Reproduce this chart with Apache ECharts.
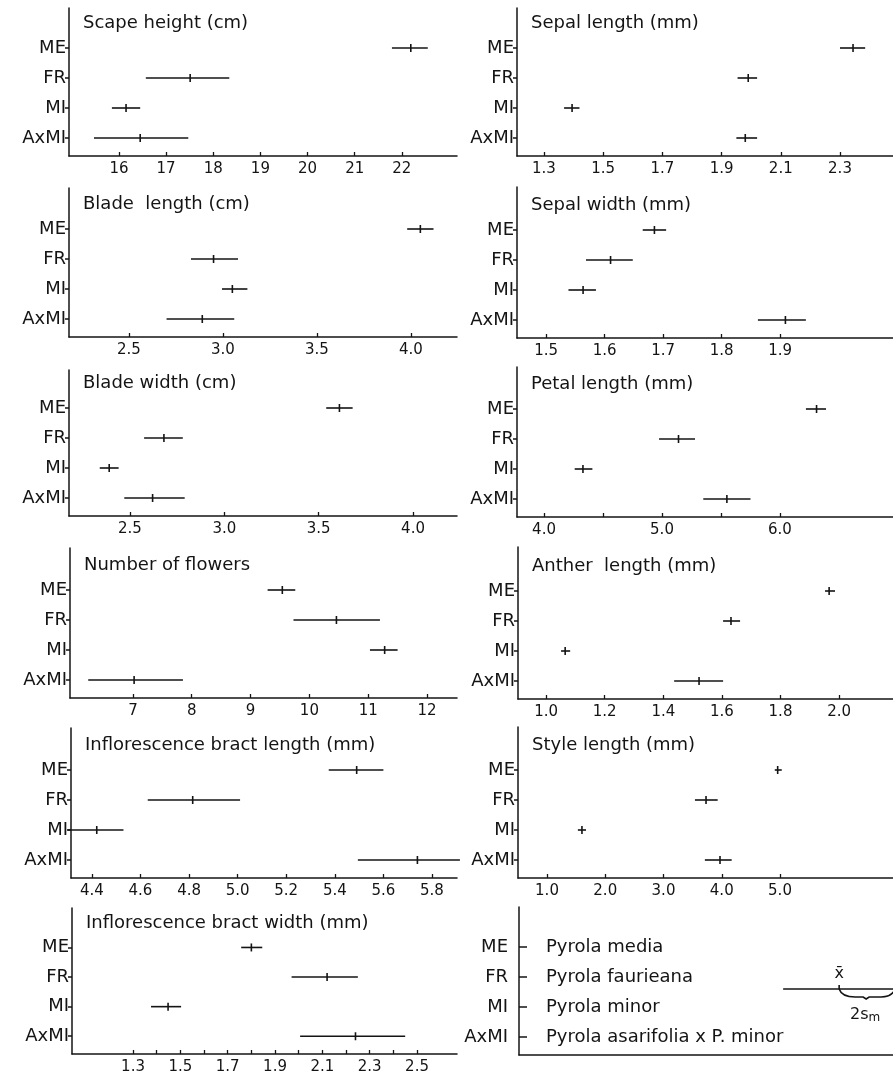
<!DOCTYPE html>
<html>
<head>
<meta charset="utf-8">
<script src="https://cdn.jsdelivr.net/npm/echarts@6/dist/echarts.min.js"></script>
<style>
  html, body { margin: 0; padding: 0; background: #fff; }
  #chart { width: 893px; height: 1075px; }
</style>
</head>
<body>
<div id="chart"></div>
<script>
// groups, top row first
var groups = ['ME', 'FR', 'MI', 'AxMI'];
var species = ['Pyrola media', 'Pyrola faurieana', 'Pyrola minor', 'Pyrola asarifolia x P. minor'];
var rowPos = [4, 3, 2, 1];

// each row: [mean - sm, mean, mean + sm] for ME, FR, MI, AxMI
var scapeHeight = [[21.79, 22.19, 22.55], [16.57, 17.51, 18.34], [15.85, 16.15, 16.45], [15.47, 16.45, 17.47]];
var sepalLength = [[2.30, 2.344, 2.385], [1.954, 1.99, 2.02], [1.368, 1.395, 1.42], [1.95, 1.98, 2.02]];
var bladeLength = [[3.98, 4.05, 4.12], [2.83, 2.95, 3.08], [2.995, 3.05, 3.13], [2.70, 2.89, 3.06]];
var sepalWidth = [[1.665, 1.685, 1.705], [1.568, 1.61, 1.648], [1.538, 1.563, 1.585], [1.862, 1.909, 1.944]];
var bladeWidth = [[3.54, 3.61, 3.68], [2.575, 2.68, 2.78], [2.34, 2.39, 2.44], [2.47, 2.62, 2.79]];
var petalLength = [[6.22, 6.31, 6.39], [4.975, 5.14, 5.28], [4.26, 4.33, 4.41], [5.35, 5.55, 5.75]];
var flowerCount = [[9.29, 9.54, 9.76], [9.73, 10.46, 11.2], [11.03, 11.28, 11.5], [6.24, 7.02, 7.85]];
var antherLength = [[1.952, 1.966, 1.986], [1.604, 1.631, 1.662], [1.051, 1.065, 1.082], [1.437, 1.522, 1.604]];
var bractLength = [[5.375, 5.49, 5.6], [4.63, 4.815, 5.01], [4.30, 4.42, 4.53], [5.495, 5.74, 5.915]];
var styleLength = [[4.91, 4.96, 5.03], [3.54, 3.73, 3.93], [1.53, 1.60, 1.67], [3.71, 3.97, 4.17]];
var bractWidth = [[1.757, 1.80, 1.846], [1.97, 2.12, 2.25], [1.376, 1.448, 1.503], [2.006, 2.24, 2.45]];

// tick positions and labelled ticks
var scapeTicks = [16, 17, 18, 19, 20, 21, 22];
var sepalLengthTicks = [1.3, 1.5, 1.7, 1.9, 2.1, 2.3];
var bladeTicks = [2.5, 3.0, 3.5, 4.0];
var sepalWidthTicks = [1.5, 1.6, 1.7, 1.8, 1.9];
var petalTicks = [4.0, 4.5, 5.0, 5.5, 6.0];
var petalLabels = [4.0, 5.0, 6.0];
var flowerTicks = [7, 8, 9, 10, 11, 12];
var antherTicks = [1.0, 1.2, 1.4, 1.6, 1.8, 2.0];
var bractLengthTicks = [4.4, 4.6, 4.8, 5.0, 5.2, 5.4, 5.6, 5.8];
var styleTicks = [1.0, 2.0, 3.0, 4.0, 5.0];
var bractWidthTicks = [1.3, 1.4, 1.5, 1.6, 1.7, 1.8, 1.9, 2.0, 2.1, 2.2, 2.3, 2.4, 2.5];
var bractWidthLabels = [1.3, 1.5, 1.7, 1.9, 2.1, 2.3, 2.5];

var FONT = 'DejaVu Sans';
var INK = '#141414';

var panels = [
    {title: 'Scape height (cm)', data: scapeHeight, ticks: scapeTicks, labels: scapeTicks, digits: 0, min: 14.94, max: 23.17, x: 69, top: 8, bottom: 156},
    {title: 'Sepal length (mm)', data: sepalLength, ticks: sepalLengthTicks, labels: sepalLengthTicks, digits: 1, min: 1.209, max: 2.479, x: 517, top: 8, bottom: 156},
    {title: 'Blade  length (cm)', data: bladeLength, ticks: bladeTicks, labels: bladeTicks, digits: 1, min: 2.181, max: 4.245, x: 69, top: 188, bottom: 337},
    {title: 'Sepal width (mm)', data: sepalWidth, ticks: sepalWidthTicks, labels: sepalWidthTicks, digits: 1, min: 1.450, max: 2.093, x: 517, top: 187, bottom: 338},
    {title: 'Blade width (cm)', data: bladeWidth, ticks: bladeTicks, labels: bladeTicks, digits: 1, min: 2.177, max: 4.233, x: 69, top: 370, bottom: 516},
    {title: 'Petal length (mm)', data: petalLength, ticks: petalTicks, labels: petalLabels, digits: 1, min: 3.771, max: 6.958, x: 517, top: 367, bottom: 517},
    {title: 'Number of flowers', data: flowerCount, ticks: flowerTicks, labels: flowerTicks, digits: 0, min: 5.93, max: 12.51, x: 70, top: 548, bottom: 698},
    {title: 'Anther  length (mm)', data: antherLength, ticks: antherTicks, labels: antherTicks, digits: 1, min: 0.904, max: 2.184, x: 518, top: 547, bottom: 699},
    {title: 'Inflorescence bract length (mm)', data: bractLength, ticks: bractLengthTicks, labels: bractLengthTicks, digits: 1, min: 4.314, max: 5.903, x: 71, top: 728, bottom: 878},
    {title: 'Style length (mm)', data: styleLength, ticks: styleTicks, labels: styleTicks, digits: 1, min: 0.502, max: 6.94, x: 518, top: 727, bottom: 878},
    {title: 'Inflorescence bract width (mm)', data: bractWidth, ticks: bractWidthTicks, labels: bractWidthLabels, digits: 1, min: 1.042, max: 2.669, x: 72, top: 908, bottom: 1056}
];
var legendPanel = {x: 519, top: 907, bottom: 1055};

var chart = echarts.init(document.getElementById('chart'));

var grids = [], xAxes = [], yAxes = [], series = [], titles = [];

function yAxisFor(i, height, tickInside) {
    return {
        type: 'value',
        gridIndex: i,
        min: 0.4,
        max: 0.4 + height / 30,
        axisLine: {show: true, lineStyle: {color: INK, width: 1.5}},
        axisTick: {show: true, customValues: rowPos, inside: !!tickInside, length: tickInside ? 8 : 4, lineStyle: {color: INK, width: 1.5}},
        axisLabel: {
            customValues: rowPos,
            formatter: function(v) { return groups[4 - Math.round(v)]; },
            fontFamily: FONT, fontSize: 18, color: INK,
            margin: tickInside ? 11 : 3
        },
        splitLine: {show: false}
    };
}

function renderBar(params, api) {
    var row = api.value(3);
    var lo = api.coord([api.value(0), row]);
    var mid = api.coord([api.value(1), row]);
    var hi = api.coord([api.value(2), row]);
    var style = {stroke: INK, lineWidth: 1.6};
    return {
        type: 'group',
        children: [
            {type: 'line', shape: {x1: lo[0], y1: lo[1], x2: hi[0], y2: hi[1]}, style: style},
            {type: 'line', shape: {x1: mid[0], y1: mid[1] - 4, x2: mid[0], y2: mid[1] + 4}, style: style}
        ]
    };
}

panels.forEach(function(p, i) {
    var height = p.bottom - p.top;
    var right = p.x < 300 ? 457 : 893;
    grids.push({left: p.x, top: p.top, width: right - p.x, height: height});
    xAxes.push({
        type: 'value',
        gridIndex: i,
        min: p.min,
        max: p.max,
        axisLine: {show: true, lineStyle: {color: INK, width: 1.5}},
        axisTick: {show: true, customValues: p.ticks, inside: true, length: 4, lineStyle: {color: INK, width: 1.3}},
        axisLabel: {
            customValues: p.labels,
            formatter: (function(d) { return function(v) { return v.toFixed(d); }; })(p.digits),
            fontFamily: FONT, fontSize: 15, color: INK, margin: 6
        },
        splitLine: {show: false}
    });
    yAxes.push(yAxisFor(i, height, false));
    series.push({
        type: 'custom',
        xAxisIndex: i,
        yAxisIndex: i,
        clip: false,
        renderItem: renderBar,
        encode: {x: [0, 1, 2], y: 3},
        data: p.data.map(function(d, k) { return [d[0], d[1], d[2], rowPos[k]]; })
    });
    titles.push({
        text: p.title,
        left: p.x + 14,
        top: p.bottom - 131 - 11,
        padding: 0,
        textStyle: {fontFamily: FONT, fontSize: 18, fontWeight: 'normal', color: INK}
    });
});

// key panel
var li = panels.length;
var lh = legendPanel.bottom - legendPanel.top;
grids.push({left: legendPanel.x, top: legendPanel.top, width: 893 - legendPanel.x, height: lh});
xAxes.push({
    type: 'value', gridIndex: li, min: 0, max: 1,
    axisLine: {show: true, lineStyle: {color: INK, width: 1.5}},
    axisTick: {show: false}, axisLabel: {show: false}, splitLine: {show: false}
});
yAxes.push(yAxisFor(li, lh, true));

series.push({
    type: 'custom',
    xAxisIndex: li,
    yAxisIndex: li,
    clip: false,
    renderItem: function(params, api) {
        var pt = api.coord([0, api.value(0)]);
        return {
            type: 'text',
            x: pt[0] + 27,
            y: pt[1],
            style: {text: species[params.dataIndex], fontFamily: FONT, fontSize: 18, fill: INK, verticalAlign: 'middle', align: 'left'}
        };
    },
    data: rowPos.map(function(r) { return [r]; })
});

// key glyph: mean with its 2sm span
series.push({
    type: 'custom',
    xAxisIndex: li,
    yAxisIndex: li,
    clip: false,
    renderItem: function(params, api) {
        var c = api.coord([api.value(0), api.value(1)]);
        var x = c[0], y = c[1];
        var style = {stroke: INK, lineWidth: 1.6, fill: null};
        var brace = 'M' + x + ' ' + y +
            ' C' + (x + 2) + ' ' + (y + 6) + ' ' + (x + 8) + ' ' + (y + 8) + ' ' + (x + 16) + ' ' + (y + 8) +
            ' L' + (x + 24) + ' ' + (y + 8) +
            ' L' + (x + 27) + ' ' + (y + 10) +
            ' L' + (x + 30) + ' ' + (y + 8) +
            ' L' + (x + 42) + ' ' + (y + 8) +
            ' C' + (x + 50) + ' ' + (y + 8) + ' ' + (x + 54) + ' ' + (y + 5) + ' ' + (x + 56) + ' ' + y;
        return {
            type: 'group',
            children: [
                {type: 'line', shape: {x1: x - 56, y1: y, x2: x + 56, y2: y}, style: style},
                {type: 'line', shape: {x1: x, y1: y - 4, x2: x, y2: y}, style: style},
                {type: 'path', shape: {pathData: brace}, style: style},
                {type: 'text', x: x, y: y - 15, style: {text: 'x\u0304', fontFamily: FONT, fontSize: 16, fill: INK, align: 'center', verticalAlign: 'middle'}},
                {type: 'text', x: x + 26, y: y + 26, style: {
                    text: '2s{sub|m}', fontFamily: FONT, fontSize: 16, fill: INK, align: 'center', verticalAlign: 'middle',
                    rich: {sub: {fontFamily: FONT, fontSize: 12, fill: INK, verticalAlign: 'bottom', padding: [6, 0, 0, 0]}}
                }}
            ]
        };
    },
    data: [[0.856, 2.6]]
});

var option = {
    animation: false,
    backgroundColor: '#fff',
    title: titles,
    grid: grids,
    xAxis: xAxes,
    yAxis: yAxes,
    series: series
};

chart.setOption(option);
</script>
</body>
</html>
